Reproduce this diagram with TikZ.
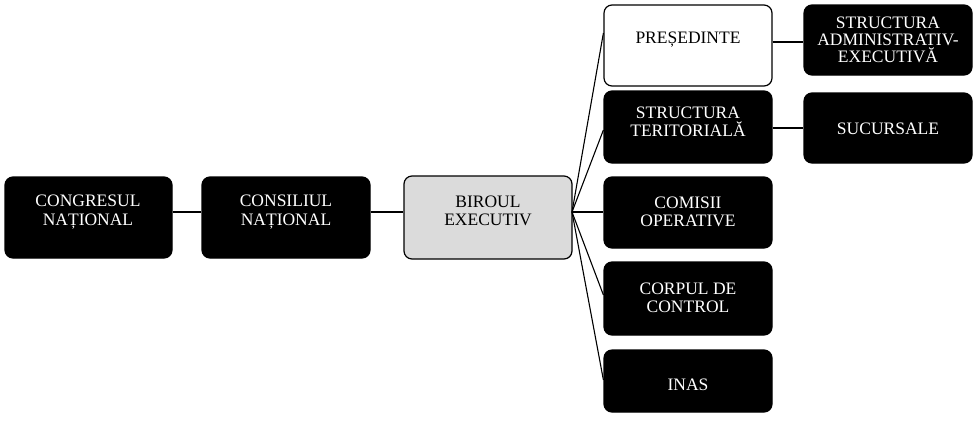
\documentclass[tikz,border=0pt]{standalone}
\usepackage{fontspec}
\setmainfont{Liberation Serif}
\begin{document}
\begin{tikzpicture}[x=1pt,y=-1pt,
  box/.style={rounded corners=8pt,line width=1.2pt,draw=black,
    font=\fontsize{17}{19}\selectfont,align=center,inner sep=0pt},
  dark/.style={box,fill=black,text=white},
  conn/.style={line width=1.1pt,draw=black}]
\useasboundingbox (0,0) rectangle (973,421);
\newcommand{\bx}[6]{\node[#2,minimum width=#5-#3,minimum height=#6-#4] (#1) at ({(#3+#5)/2},{(#4+#6)/2}) {};}
\bx{cong}{dark}{5}{177}{172}{258}
\bx{cons}{dark}{202}{177}{370}{258}
\node[box,fill=gray!28,minimum width=168,minimum height=83] (bir) at (488,217.5) {};
\bx{pres}{box}{604}{5}{772}{86}
\bx{adm}{dark}{804}{5}{972}{75}
\bx{ter}{dark}{604}{91}{772}{163}
\bx{suc}{dark}{804}{93}{972}{163}
\bx{com}{dark}{604}{177}{772}{248}
\bx{cor}{dark}{604}{262}{772}{335}
\bx{inas}{dark}{604}{350}{772}{412}
\tikzset{lbl/.style={font=\fontsize{17.5}{18.5}\selectfont,align=center,text=white}}
\node[lbl] (tcong) at (88,212) {CONGRESUL\\NAȚIONAL};
\node[lbl] (tcons) at (286,212) {CONSILIUL\\NAȚIONAL};
\node[lbl,text=black] (tbir) at (488,211) {BIROUL\\EXECUTIV};
\node[lbl,text=black] (tpres) at (688,40) {PREȘEDINTE};
\node[lbl,font=\fontsize{17.5}{17}\selectfont] (tadm) at (888,40) {STRUCTURA\\ADMINISTRATIV-\\EXECUTIVĂ};
\node[lbl] (tter) at (688,122) {STRUCTURA\\TERITORIALĂ};
\node[lbl] (tsuc) at (888,129) {SUCURSALE};
\node[lbl] (tcom) at (688,212) {COMISII\\OPERATIVE};
\node[lbl] (tcor) at (688,298) {CORPUL DE\\CONTROL};
\node[lbl] (tinas) at (688,385) {INAS};
\coordinate (hub) at (572,212);
\draw[conn] (cong.east |- 0,212) -- (cons.west |- 0,212);
\draw[conn] (cons.east |- 0,212) -- (bir.west |- 0,212);
\draw[conn] (hub) -- (pres.west |- 0,33);
\draw[conn] (hub) -- (ter.west |- 0,130);
\draw[conn] (hub) -- (com.west |- 0,212);
\draw[conn] (hub) -- (cor.west |- 0,295);
\draw[conn] (hub) -- (inas.west |- 0,380);
\draw[conn] (pres.east |- 0,42) -- (adm.west |- 0,42);
\draw[conn] (ter.east |- 0,128) -- (suc.west |- 0,128);
\end{tikzpicture}
\end{document}
